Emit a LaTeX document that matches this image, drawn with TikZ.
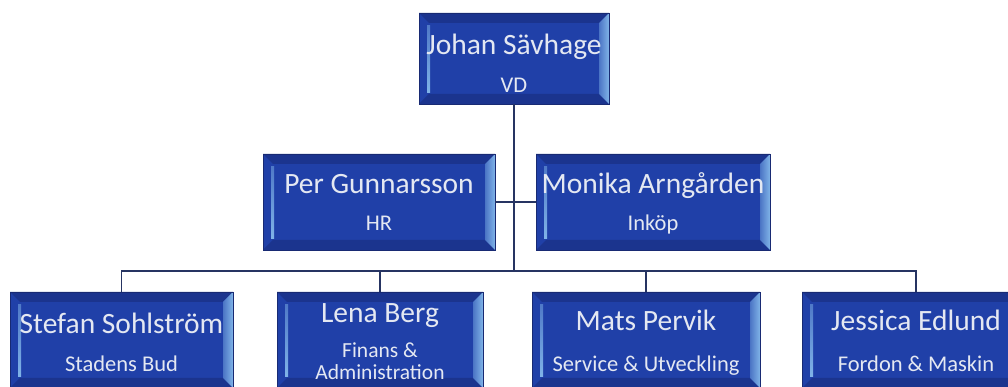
\documentclass[tikz,border=0pt]{standalone}
\usepackage{fontspec}
\setmainfont{Carlito}
\definecolor{boxblue}{RGB}{32,64,168}
\definecolor{boxedge}{RGB}{24,42,115}
\definecolor{bevdark}{RGB}{27,52,142}
\definecolor{bevlight}{RGB}{128,180,232}
\definecolor{linenavy}{RGB}{38,52,98}
\definecolor{txtlight}{RGB}{228,232,242}
\tikzset{
    orgbox/.style={draw=boxedge, line width=0.8pt, fill=boxblue,
        minimum width=#1, minimum height=96pt, inner sep=0pt,
        path picture={
            \coordinate (bnw) at (path picture bounding box.north west);
            \coordinate (bne) at (path picture bounding box.north east);
            \coordinate (bsw) at (path picture bounding box.south west);
            \coordinate (bse) at (path picture bounding box.south east);
            \fill[bevdark] (bnw) -- (bne) -- ([shift={(-10pt,-10pt)}]bne) -- ([shift={(10pt,-10pt)}]bnw) -- cycle;
            \fill[bevdark] (bsw) -- (bse) -- ([shift={(-10pt,10pt)}]bse) -- ([shift={(10pt,10pt)}]bsw) -- cycle;
            \shade[left color=bevlight!45!boxblue, right color=bevlight] (bne) -- (bse) -- ([shift={(-10pt,10pt)}]bse) -- ([shift={(-10pt,-10pt)}]bne) -- cycle;
            \shade[top color=bevlight!50!boxblue, bottom color=bevlight] ([shift={(8pt,-13pt)}]bnw) rectangle ([shift={(11pt,11pt)}]bsw);
        }},
    pname/.style={text=txtlight, inner sep=0pt, anchor=base, font=\fontsize{29.5}{34}\selectfont},
    ptitle/.style={text=txtlight, inner sep=0pt, anchor=base, font=\fontsize{22.5}{20}\selectfont},
    link/.style={draw=linenavy, line width=1.3pt},
}
\begin{document}
\begin{tikzpicture}[x=1pt,y=1pt]
        \useasboundingbox (0,0) rectangle (1008,387);
        \clip (0,0) rectangle (1008,387);
        %% boxes
        \node[orgbox=190pt, minimum height=91pt] (js) at (514,328.5) {};
        \node[orgbox=232pt] (pg) at (379,185) {};
        \node[orgbox=234pt] (ma) at (653,185) {};
        \node[orgbox=223pt] (ss) at (121.5,47) {};
        \node[orgbox=206pt] (lb) at (380,47) {};
        \node[orgbox=228pt] (mp) at (646,47) {};
        \node[orgbox=228pt] (je) at (916,47) {};
        %% names and titles
        \node[pname] (jsn) at ([yshift=-42pt]js.north) {Johan Sävhage};
        \node[ptitle] (jst) at ([yshift=-80pt]js.north) {VD};
        \node[pname] (pgn) at ([yshift=-40pt]pg.north) {Per Gunnarsson};
        \node[ptitle] (pgt) at ([yshift=-77pt]pg.north) {HR};
        \node[pname] (man) at ([yshift=-40pt]ma.north) {Monika Arngården};
        \node[ptitle] (mat) at ([yshift=-77pt]ma.north) {Inköp};
        \node[pname] (ssn) at ([yshift=-42pt]ss.north) {Stefan Sohlström};
        \node[ptitle] (sst) at ([yshift=-80pt]ss.north) {Stadens Bud};
        \node[pname] (lbn) at ([yshift=-31pt]lb.north) {Lena Berg};
        \node[ptitle, font=\fontsize{21.5}{21.5}\selectfont, align=center, anchor=north] (lbt) at ([yshift=-51pt]lb.north) {Finans \&\\Administration};
        \node[pname] (mpn) at ([yshift=-39pt]mp.north) {Mats Pervik};
        \node[ptitle] (mpt) at ([yshift=-80pt]mp.north) {Service \& Utveckling};
        \node[pname] (jen) at ([yshift=-39pt]je.north) {Jessica Edlund};
        \node[ptitle] (jet) at ([yshift=-80pt]je.north) {Fordon \& Maskin};
        %% lines
        \coordinate (bus) at (0,116);
        \draw[link] (js) -- (js |- bus);
        \draw[link] (pg) -- (ma);
        \draw[link] (ss) -- (ss |- bus) -| (je);
        \foreach \b in {lb,mp}
            \draw[link] (\b) -- (\b |- bus);
    \end{tikzpicture}
\end{document}
